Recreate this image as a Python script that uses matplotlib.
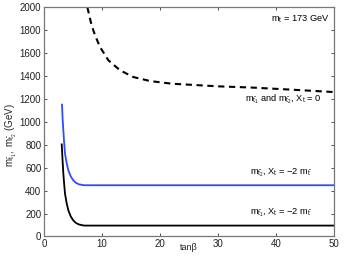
import matplotlib
matplotlib.use("Agg")
import matplotlib.pyplot as plt

plt.rcParams['font.family'] = ['Liberation Sans', 'DejaVu Sans']
plt.rcParams['mathtext.fontset'] = 'custom'
plt.rcParams['mathtext.rm'] = 'Liberation Sans'
plt.rcParams['mathtext.it'] = 'Liberation Sans'
plt.rcParams['mathtext.bf'] = 'Liberation Sans:bold'

# X_t = 0 (both stops)
tb_x0 = [7.47, 8.2, 8.8, 9.65, 11.1, 13.1, 15.4, 18.3, 22.0, 30.0, 36.0, 43.0, 50.0]
m_x0 = [2000, 1843, 1755, 1653, 1537, 1450, 1391, 1356, 1333, 1310, 1299, 1280, 1260]

# stop 2, X_t = -2 m_stop
tb_s2 = [3.1, 3.2, 3.33, 3.45, 3.62, 3.9, 4.2, 4.6, 5.05, 5.5, 6.0, 6.8, 7.2, 50.0]
m_s2 = [1150, 1030, 925, 830, 722, 640, 576, 525, 489, 468, 455, 448, 447, 447]

# stop 1, X_t = -2 m_stop
tb_s1 = [3.05, 3.2, 3.33, 3.5, 3.62, 3.9, 4.2, 4.6, 5.05, 5.5, 6.0, 6.8, 7.0, 50.0]
m_s1 = [803, 660, 548, 440, 373, 290, 227, 175, 140, 118, 105, 96, 95, 95]

xticks = [0, 10, 20, 30, 40, 50]
yticks = [0, 200, 400, 600, 800, 1000, 1200, 1400, 1600, 1800, 2000]

fig = plt.figure(figsize=(3.44, 2.59), dpi=100)
ax = fig.add_axes([0.128, 0.087, 0.843, 0.885])

ax.plot(tb_x0, m_x0, color='black', lw=1.5, ls=(0, (3, 2.2)))
ax.plot(tb_s2, m_s2, color='#2f4dff', lw=1.3)
ax.plot(tb_s1, m_s1, color='black', lw=1.3)

ax.set_xlim(0, 50)
ax.set_ylim(0, 2000)
ax.set_xticks(xticks)
ax.set_yticks(yticks)
ax.tick_params(direction='in', top=True, right=True, labelsize=7, length=2.5,
               width=0.6, colors='#333333', pad=2)
ax.tick_params(labelcolor='#222222')
for s in ax.spines.values():
    s.set_color('#777777')
    s.set_linewidth(0.9)

fig.text(189 / 344, 1 - 248 / 259, 'tanβ', fontsize=6.5, ha='center', va='center',
         color='#222222')
fig.text(11 / 344, 1 - 135 / 259,
         r'$\mathrm{m_{\tilde{t}_1},\ m_{\tilde{t}_2}}$ (GeV)',
         fontsize=7, rotation=90, ha='center', va='center', color='#222222')

fs = 6.7
ax.text(49.2, 1895, r'$\mathrm{m_t}$ = 173 GeV', ha='right', va='center', fontsize=fs)
ax.text(47.8, 1200, r'$\mathrm{m_{\tilde{t}_1}}$ and $\mathrm{m_{\tilde{t}_2}}$, $\mathrm{X_t}$ = 0',
        ha='right', va='center', fontsize=fs)
ax.text(46.3, 555, r'$\mathrm{m_{\tilde{t}_2}}$, $\mathrm{X_t}$ = $-$2 $\mathrm{m_{\tilde{t}}}$',
        ha='right', va='center', fontsize=fs)
ax.text(46.3, 205, r'$\mathrm{m_{\tilde{t}_1}}$, $\mathrm{X_t}$ = $-$2 $\mathrm{m_{\tilde{t}}}$',
        ha='right', va='center', fontsize=fs)

fig.savefig('out.png', dpi=100)
